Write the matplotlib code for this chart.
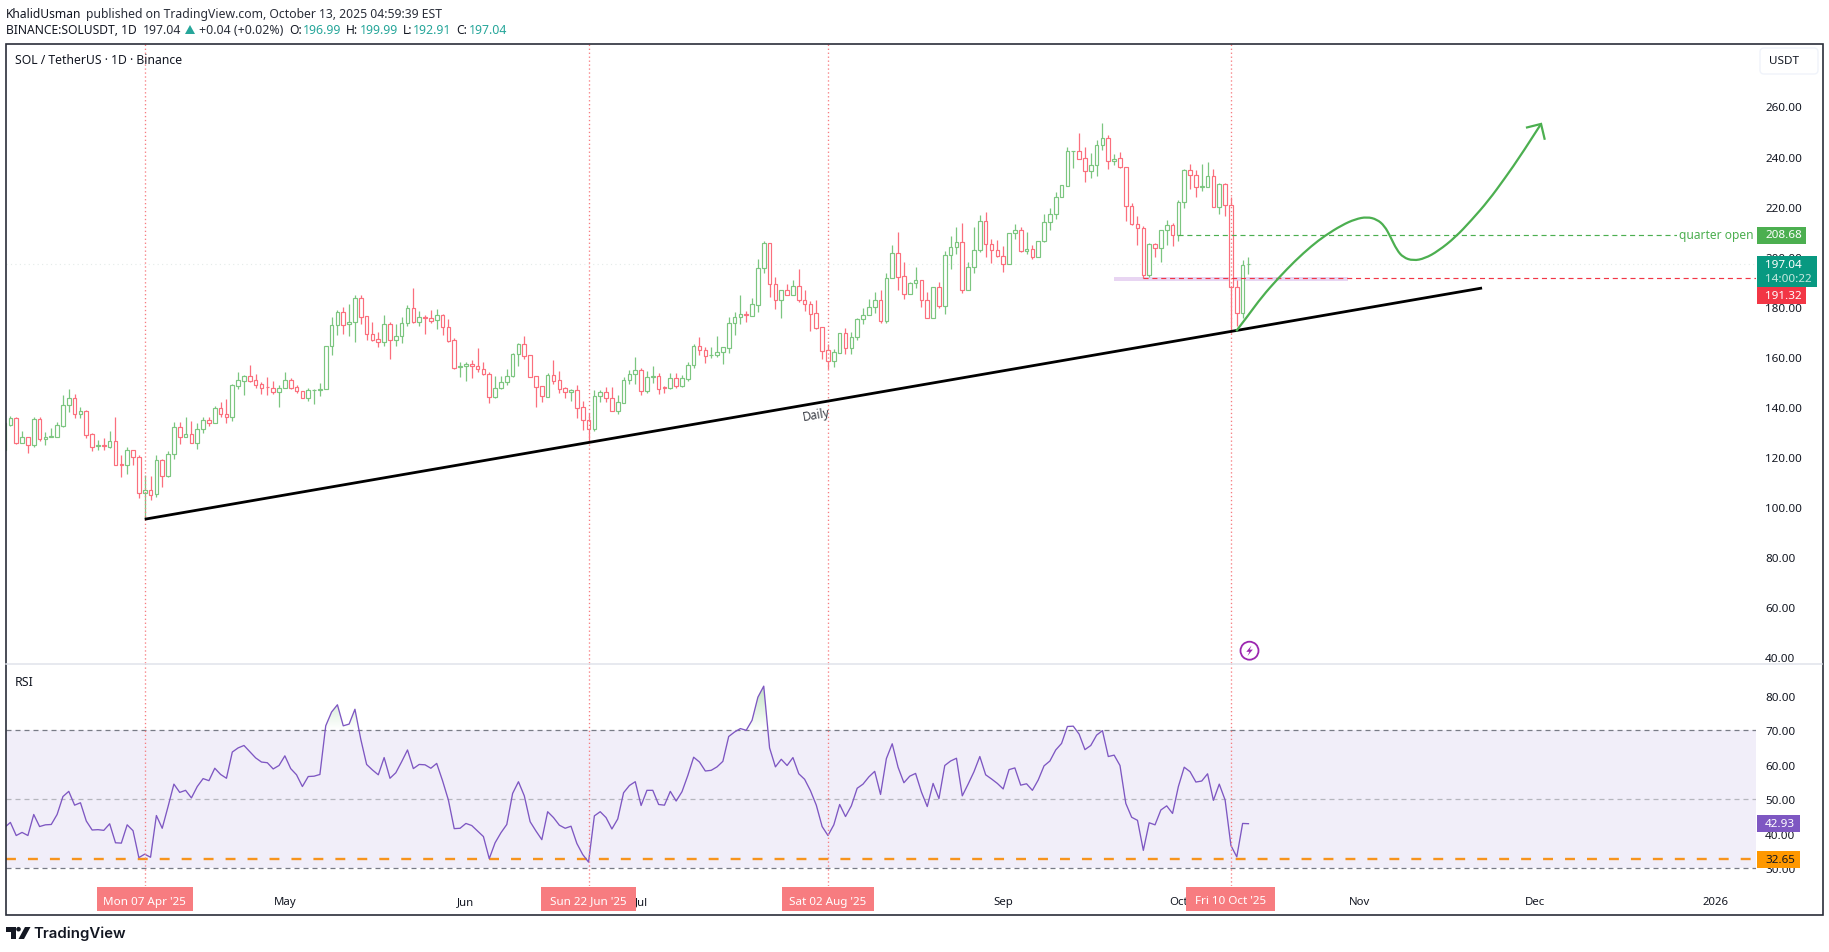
import numpy as np
import pandas as pd
import matplotlib
matplotlib.use("Agg")
import matplotlib.pyplot as plt
import matplotlib.dates as mdates
from matplotlib.patches import Rectangle, FancyBboxPatch, Circle, Polygon, PathPatch
from matplotlib.path import Path
from matplotlib.transforms import ScaledTranslation

# ----------------------------
# Data
# ----------------------------
first_day = "2025-03-14"

opens = [
    122.8, 132.8, 135.5, 125.8, 127.9, 125.0, 135.1, 127.4, 128.2, 128.2,
    132.6, 140.7, 143.5, 137.1, 138.3, 129.1, 124.6, 124.8, 124.2, 126.3,
    117.2, 117.0, 122.7, 119.9, 105.5, 106.9, 105.1, 118.7, 112.6, 121.1,
    131.9, 128.2, 129.1, 125.8, 131.1, 134.7, 133.8, 139.5, 137.3, 136.1,
    148.5, 150.5, 152.3, 150.7, 149.1, 148.0, 147.5, 145.9, 147.5, 150.7,
    147.9, 146.3, 143.7, 146.6, 146.7, 147.1, 164.2, 172.6, 177.8, 173.0,
    173.8, 183.4, 176.2, 169.0, 167.0, 165.8, 173.0, 166.6, 168.2, 173.4,
    179.4, 173.8, 175.8, 175.4, 174.6, 176.6, 171.8, 166.6, 156.0, 156.3,
    157.3, 156.5, 155.0, 153.0, 143.9, 147.5, 149.9, 152.3, 161.0, 165.0,
    160.6, 152.2, 148.2, 144.1, 152.6, 150.6, 147.4, 146.1, 146.7, 139.9,
    135.0, 131.4, 144.3, 145.9, 143.4, 138.5, 141.7, 150.6, 153.0, 154.6,
    146.5, 152.1, 152.2, 147.8, 147.4, 151.4, 148.5, 151.3, 156.6, 164.2,
    162.6, 160.6, 160.9, 161.8, 163.7, 173.4, 175.8, 177.1, 176.4, 180.8,
    195.3, 205.3, 189.0, 182.6, 186.6, 184.6, 188.2, 182.9, 181.3, 177.4,
    171.8, 162.6, 158.2, 161.7, 169.4, 163.7, 167.8, 175.0, 176.6, 179.8,
    182.6, 174.4, 191.3, 201.3, 192.2, 185.2, 189.4, 190.6, 182.6, 175.7,
    187.8, 180.2, 200.6, 203.7, 205.7, 186.8, 195.8, 202.5, 214.1, 204.9,
    202.5, 200.1, 196.9, 209.3, 210.5, 202.1, 202.9, 199.7, 206.1, 213.7,
    216.9, 223.7, 228.4, 242.0, 242.1, 239.3, 234.1, 236.5, 244.5, 247.2,
    238.1, 239.3, 235.7, 220.1, 212.9, 211.3, 192.6, 204.9, 203.3, 210.5,
    212.5, 208.7, 221.7, 234.5, 232.5, 227.8, 228.0, 232.1, 219.7, 228.9,
    220.5, 188.0, 177.4, 196.99,
]
highs = [
    134.0, 136.4, 136.1, 130.4, 127.9, 136.0, 136.0, 129.9, 131.5, 133.9,
    144.8, 147.2, 145.2, 140.0, 138.8, 129.5, 126.8, 127.5, 130.4, 136.0,
    120.8, 123.9, 122.7, 120.8, 112.9, 112.5, 120.7, 119.1, 122.4, 134.0,
    134.0, 136.0, 134.4, 133.8, 136.0, 136.1, 140.4, 142.1, 143.1, 149.2,
    154.0, 152.6, 156.8, 153.2, 150.1, 151.9, 150.4, 148.8, 154.0, 151.5,
    148.7, 146.5, 147.6, 147.1, 149.5, 164.2, 175.9, 178.7, 179.8, 181.1,
    184.7, 184.7, 176.2, 174.1, 169.8, 176.6, 173.8, 173.1, 176.1, 180.7,
    187.5, 178.3, 176.6, 178.7, 179.0, 177.0, 175.0, 167.4, 157.8, 157.8,
    158.8, 163.6, 157.8, 154.1, 152.4, 152.4, 155.2, 161.4, 165.4, 168.5,
    160.9, 152.2, 148.2, 153.4, 158.8, 154.4, 148.1, 147.1, 148.8, 142.4,
    137.5, 146.8, 146.8, 148.0, 147.8, 144.8, 152.1, 154.8, 159.8, 155.4,
    154.4, 156.3, 153.7, 148.4, 153.7, 153.7, 152.8, 157.9, 165.3, 167.9,
    163.9, 163.9, 168.3, 164.1, 175.9, 177.9, 184.7, 178.3, 183.6, 199.1,
    206.2, 205.3, 191.9, 186.6, 189.3, 190.5, 195.1, 186.6, 182.4, 182.6,
    171.8, 165.1, 163.1, 169.4, 171.4, 169.9, 175.4, 179.4, 183.1, 185.8,
    186.7, 193.3, 204.5, 210.0, 197.7, 189.9, 195.8, 190.6, 185.9, 187.8,
    189.9, 202.3, 208.3, 211.9, 213.4, 197.7, 211.9, 216.5, 217.8, 206.9,
    206.5, 204.3, 209.3, 213.0, 211.9, 209.7, 204.5, 206.1, 216.9, 219.3,
    225.7, 228.5, 243.8, 242.2, 249.4, 243.8, 241.3, 246.5, 253.4, 248.6,
    241.0, 241.8, 235.7, 221.3, 216.2, 212.1, 205.3, 205.3, 210.5, 214.6,
    213.3, 222.6, 234.9, 237.0, 234.6, 236.9, 237.8, 234.9, 229.3, 229.3,
    224.0, 190.7, 198.7, 199.99,
]
lows = [
    122.8, 132.4, 125.2, 125.8, 121.8, 124.2, 126.6, 124.8, 128.2, 128.2,
    132.2, 138.1, 135.7, 135.7, 127.8, 122.4, 122.8, 122.8, 123.8, 117.0,
    112.2, 113.3, 116.9, 103.7, 95.2, 102.9, 104.2, 108.2, 112.2, 119.4,
    125.2, 128.2, 125.8, 123.2, 129.5, 132.4, 133.8, 135.9, 133.8, 134.6,
    147.3, 144.8, 150.1, 147.7, 145.2, 144.8, 145.1, 140.1, 147.5, 147.2,
    145.7, 143.5, 142.5, 141.2, 144.4, 147.1, 160.9, 168.7, 169.1, 168.5,
    166.1, 173.1, 166.9, 166.5, 164.0, 164.4, 159.3, 164.4, 165.7, 172.3,
    173.4, 172.3, 169.3, 173.7, 171.3, 168.7, 166.1, 155.3, 152.1, 150.5,
    151.7, 154.1, 152.8, 141.7, 143.6, 147.1, 148.8, 152.1, 156.5, 159.3,
    152.1, 140.0, 142.1, 144.1, 149.2, 145.7, 143.5, 142.5, 135.5, 130.8,
    126.0, 130.6, 142.1, 142.1, 138.5, 137.4, 141.4, 149.3, 149.3, 144.8,
    145.7, 149.7, 145.2, 145.7, 147.0, 147.7, 147.8, 150.4, 155.7, 160.7,
    157.7, 159.7, 160.1, 157.1, 161.5, 168.7, 173.1, 174.0, 176.4, 178.0,
    193.6, 183.8, 179.0, 175.6, 184.6, 184.6, 182.0, 178.4, 170.5, 171.2,
    159.1, 155.3, 156.1, 161.4, 161.3, 161.3, 166.7, 173.2, 176.6, 177.4,
    173.4, 173.6, 191.3, 186.7, 183.2, 185.2, 187.4, 180.0, 175.7, 175.7,
    179.4, 177.2, 195.2, 201.2, 185.4, 186.6, 193.6, 201.7, 200.0, 197.5,
    200.0, 194.0, 196.9, 206.9, 202.0, 200.9, 199.2, 199.7, 205.7, 210.7,
    215.0, 223.7, 228.1, 235.5, 239.1, 230.0, 231.3, 232.3, 242.6, 235.1,
    236.7, 235.3, 214.4, 212.6, 204.7, 191.3, 192.0, 200.0, 197.9, 204.5,
    204.4, 206.4, 219.6, 227.2, 224.0, 226.4, 227.7, 219.7, 217.2, 216.4,
    169.4, 172.3, 175.4, 192.91,
]
closes = [
    133.5, 135.5, 125.8, 127.9, 125.0, 135.1, 127.4, 128.2, 128.4, 132.7,
    140.7, 143.5, 137.1, 138.3, 129.0, 124.2, 124.8, 124.6, 126.3, 117.0,
    117.0, 122.7, 119.9, 105.5, 106.9, 104.9, 118.7, 112.6, 121.1, 131.9,
    128.2, 129.1, 125.8, 131.1, 134.7, 133.8, 139.5, 137.3, 136.1, 148.7,
    150.7, 152.3, 150.5, 148.9, 147.7, 147.8, 145.9, 147.5, 150.7, 147.7,
    146.3, 143.7, 146.7, 146.9, 147.1, 164.2, 172.6, 177.8, 172.7, 173.8,
    183.4, 176.1, 169.0, 166.9, 165.8, 173.0, 166.6, 168.2, 173.4, 179.4,
    173.8, 175.8, 175.6, 174.5, 176.6, 171.8, 166.5, 155.7, 156.3, 157.3,
    156.5, 155.0, 153.0, 143.9, 147.5, 149.9, 152.3, 161.0, 165.0, 160.5,
    152.1, 148.1, 144.3, 152.6, 150.5, 147.3, 146.1, 146.7, 139.7, 135.0,
    131.4, 144.3, 145.9, 143.5, 138.5, 141.8, 150.6, 153.0, 154.6, 146.5,
    151.8, 152.3, 147.3, 147.6, 151.4, 148.5, 151.4, 156.6, 164.2, 162.6,
    160.2, 160.9, 161.8, 163.8, 173.4, 175.8, 177.0, 176.9, 181.0, 195.3,
    205.3, 189.0, 182.6, 186.6, 184.6, 188.2, 182.8, 181.2, 177.2, 171.6,
    162.5, 158.2, 161.8, 169.4, 163.7, 167.8, 175.0, 176.6, 179.8, 182.6,
    174.4, 191.3, 201.3, 192.0, 185.2, 189.5, 190.6, 182.6, 175.7, 187.8,
    180.2, 200.6, 203.7, 205.7, 186.8, 195.8, 202.5, 214.1, 204.9, 202.5,
    200.1, 196.9, 209.3, 210.5, 202.1, 202.9, 199.7, 206.1, 213.7, 216.9,
    223.7, 228.5, 242.1, 242.1, 239.1, 234.1, 236.5, 244.5, 247.2, 238.1,
    239.1, 235.7, 220.1, 212.9, 211.3, 192.6, 204.9, 203.3, 210.5, 212.5,
    208.5, 221.7, 234.5, 232.5, 227.7, 228.2, 232.1, 219.7, 228.9, 220.5,
    188.0, 177.4, 196.6, 197.04,
]
rsi_values = [
    41.8, 43.3, 39.5, 40.4, 39.5, 45.6, 42.1, 42.6, 42.7, 45.6,
    50.8, 52.3, 48.3, 49.0, 43.7, 41.1, 41.2, 41.0, 42.9, 37.4,
    37.3, 42.6, 40.9, 33.1, 34.1, 33.2, 45.3, 41.6, 47.9, 54.4,
    52.0, 52.6, 50.4, 53.7, 56.0, 55.4, 59.0, 57.2, 56.1, 63.7,
    64.9, 65.6, 63.8, 62.0, 60.8, 60.6, 58.8, 59.8, 62.6, 58.9,
    57.1, 53.7, 56.6, 56.7, 57.2, 71.3, 75.3, 77.4, 71.3, 71.8,
    76.1, 67.4, 60.1, 58.5, 57.1, 62.1, 56.1, 57.7, 60.9, 64.3,
    58.9, 60.1, 60.0, 59.0, 60.4, 55.4, 49.8, 41.5, 41.6, 43.0,
    42.4, 40.8, 39.2, 32.8, 37.4, 40.3, 42.7, 51.7, 55.1, 51.0,
    43.5, 40.8, 38.3, 46.4, 44.7, 42.5, 41.6, 42.2, 37.2, 34.0,
    31.8, 45.2, 46.4, 44.7, 41.4, 44.3, 51.9, 54.0, 55.1, 48.2,
    52.6, 52.6, 48.5, 48.3, 52.3, 49.5, 52.2, 56.9, 62.2, 60.8,
    58.2, 58.4, 59.4, 61.0, 68.2, 69.5, 70.5, 70.0, 72.9, 79.6,
    82.8, 64.9, 59.4, 61.6, 59.8, 62.1, 57.4, 55.8, 52.5, 48.3,
    42.1, 39.5, 42.6, 48.5, 45.0, 48.1, 53.2, 54.4, 56.5, 58.1,
    51.4, 61.8, 66.1, 59.3, 54.8, 56.7, 57.5, 52.1, 47.9, 54.6,
    50.2, 59.8, 61.1, 61.9, 51.0, 54.4, 58.0, 62.4, 57.1, 55.9,
    54.6, 53.0, 58.6, 59.1, 54.1, 54.5, 52.6, 55.6, 59.7, 61.1,
    64.3, 66.2, 71.1, 71.2, 68.9, 64.4, 65.6, 68.6, 69.9, 62.4,
    62.8, 59.8, 48.8, 44.8, 43.9, 35.2, 43.2, 42.6, 46.9, 48.1,
    45.9, 53.7, 59.3, 58.0, 55.0, 55.3, 57.4, 49.7, 54.4, 49.8,
    36.6, 33.3, 43.0, 42.93,
]

price_ticks = [40, 60, 80, 100, 120, 140, 160, 180, 200, 220, 240, 260]
rsi_ticks = [30, 40, 50, 60, 70, 80]
month_ticks = ["2025-05-01", "2025-06-01", "2025-07-01", "2025-08-01", "2025-09-01",
               "2025-10-01", "2025-11-01", "2025-12-01", "2026-01-01"]
month_labels = ["May", "Jun", "Jul", "", "Sep", "Oct", "Nov", "Dec", "2026"]
marked_days = ["2025-04-07", "2025-06-22", "2025-08-02", "2025-10-10"]
marked_labels = ["Mon 07 Apr '25", "Sun 22 Jun '25", "Sat 02 Aug '25", "Fri 10 Oct '25"]

# trendline and projected path drawn on the chart
trend_days = ["2025-04-07", "2025-11-22"]
trend_prices = [95.2, 187.5]
# path days are counted in bars from 7 Apr
path_days = [186.9, 189.0, 191.3, 194.1, 197.0, 199.8, 202.1, 205.0, 207.3, 209.3, 211.0, 212.3,
             213.3, 214.4, 215.5, 217.2, 219.2, 221.5, 224.4, 227.2, 230.1, 232.9, 235.8, 239.1]
path_prices = [170.3, 176.7, 184.0, 191.4, 198.4, 204.3, 208.4, 212.6, 215.0, 215.9, 214.9, 212.3,
               208.0, 202.7, 199.7, 198.4, 199.3, 202.3, 207.7, 214.6, 222.4, 231.3, 241.0, 253.0]
head_days = [236.7, 239.1, 239.7]
head_prices = [251.6, 253.0, 247.1]

zone_days = ["2025-09-20", "2025-10-30"]
zone_prices = [190.3, 191.9]
quarter_open = 208.68
quarter_open_day = "2025-10-01"
prev_low = 191.32
prev_low_day = "2025-09-25"
last_price = 197.04
rsi_last = 42.93
rsi_level = 32.65

# ----------------------------
# Page layout (pixels)
# ----------------------------
W, H = 1829, 952
LEFT, RIGHT = 6, 1756
TOP, SPLIT, BOTTOM = 44, 663, 886

GREEN = "#7cc680"
RED = "#fb6f7d"
DASH_GREEN = "#4caf50"
DASH_RED = "#f23645"
TEXT = "#131722"
TAG_PINK = "#f77c80"
PURPLE = "#7e57c2"
ORANGE = "#f7941d"

plt.rcParams["font.family"] = "Noto Sans"

fig = plt.figure(figsize=(W / 100, H / 100), dpi=100, facecolor="white")


def pane(top, bottom):
    return fig.add_axes([LEFT / W, 1 - bottom / H, (RIGHT - LEFT) / W, (bottom - top) / H])


def num(day):
    return mdates.date2num(pd.Timestamp(day))


ax = pane(TOP, SPLIT)
ax_rsi = pane(SPLIT, BOTTOM)
over = fig.add_axes([0, 0, 1, 1], zorder=10)
over.set_xlim(0, W)
over.set_ylim(H, 0)
over.axis("off")

days = num(first_day) + np.arange(len(closes))
anchor = num(marked_days[0])
xlim = (anchor + (LEFT - 144.7) / 5.84, anchor + (RIGHT - 144.7) / 5.84)


def to_px(day):
    return 144.7 + (day - anchor) * 5.84


# ----------------------------
# Price pane
# ----------------------------
o, h, l, c = map(np.array, (opens, highs, lows, closes))
colors = [GREEN if up else RED for up in c >= o]

ax.vlines(days, l, h, colors=colors, linewidth=0.9, zorder=3)
ax.bar(days, np.abs(c - o), bottom=np.minimum(o, c), width=0.62, facecolor="white",
       edgecolor=colors, linewidth=0.85, zorder=4)

ax.axhline(last_price, color="#e4ebe9", linewidth=0.8, linestyle=(0, (1, 3)), zorder=1)

# purple zone, level lines
ax.fill_between([num(zone_days[0]), num(zone_days[1])], zone_prices[0], zone_prices[1],
                color="#e8d5f2", linewidth=0, zorder=2)
ax.hlines(quarter_open, num(quarter_open_day), xlim[1], color=DASH_GREEN, linewidth=0.85,
          linestyle=(0, (4.3, 3.2)), zorder=5)
ax.hlines(prev_low, num(prev_low_day), xlim[1], color=DASH_RED, linewidth=0.85,
          linestyle=(0, (4.3, 3.2)), zorder=5)

trend_x = mdates.date2num(pd.to_datetime(trend_days))
ax.plot(trend_x, trend_prices, color="black", linewidth=2.0, solid_capstyle="butt", zorder=6)

# projected path: smooth quadratic pieces through the read points
path_xy = np.column_stack([anchor + np.array(path_days), path_prices])
mids = (path_xy[1:-2] + path_xy[2:-1]) / 2
verts = [path_xy[0]]
codes = [Path.MOVETO]
for ctrl, end in zip(path_xy[1:-2], mids):
    verts += [ctrl, end]
    codes += [Path.CURVE3, Path.CURVE3]
verts += [path_xy[-2], path_xy[-1]]
codes += [Path.CURVE3, Path.CURVE3]
ax.add_patch(PathPatch(Path(verts, codes), fill=False, edgecolor=DASH_GREEN, linewidth=1.6, zorder=7))
ax.plot(anchor + np.array(head_days), head_prices, color=DASH_GREEN, linewidth=1.6,
        solid_joinstyle="miter", zorder=7)

ax.text(anchor + 115, 136.6, "Daily", rotation=9.8, ha="center", va="center", fontsize=8.6,
        color="#3a3d45", zorder=8)

ax.set_ylim(260 - (SPLIT - 106.4) / 2.505, 260 + (106.4 - TOP) / 2.505)
ax.set_yticks(price_ticks)
ax.set_yticklabels([f"{t:.2f}" for t in price_ticks])

# ----------------------------
# RSI pane
# ----------------------------
rsi = np.array(rsi_values)
ax_rsi.axhspan(30, 70, color="#f1eef9", linewidth=0, zorder=1)
ax_rsi.axhline(70, color="#787b86", linewidth=0.9, linestyle=(0, (4, 3.2)), zorder=2)
ax_rsi.axhline(50, color="#b5b6bd", linewidth=0.9, linestyle=(0, (4, 3.2)), zorder=2)
ax_rsi.axhline(30, color="#787b86", linewidth=0.9, linestyle=(0, (4, 3.2)), zorder=2)
ax_rsi.axhline(rsi_level, color=ORANGE, linewidth=1.7, linestyle=(0, (4.2, 5.1)), zorder=3)

hot = ax_rsi.fill_between(days, rsi, 70, where=rsi > 70, interpolate=True, color="none")
gradient = np.zeros((64, 2, 4))
gradient[..., :3] = matplotlib.colors.to_rgb("#4caf50")
gradient[..., 3] = np.linspace(0.38, 0.0, 64)[:, None]
shade = ax_rsi.imshow(gradient, extent=[xlim[0], xlim[1], 70, 84], aspect="auto", zorder=3)
shade.set_clip_path(Path.make_compound_path(*hot.get_paths()), transform=ax_rsi.transData)

ax_rsi.plot(days, rsi, color=PURPLE, linewidth=0.95, zorder=4)

ax_rsi.set_ylim(70 - (BOTTOM - 730.3) / 3.45, 70 + (730.3 - SPLIT) / 3.45)
ax_rsi.set_yticks(rsi_ticks)
ax_rsi.set_yticklabels([f"{t:.2f}" for t in rsi_ticks])
ax_rsi.set_xticks(mdates.date2num(pd.to_datetime(month_ticks)))
ax_rsi.set_xticklabels(month_labels)
for tick_label, name in zip(ax_rsi.get_xticklabels(), month_labels):
    if name == "2026":
        tick_label.set_fontweight("bold")

for a in (ax, ax_rsi):
    a.set_xlim(xlim)
    a.yaxis.tick_right()
    a.tick_params(axis="y", length=0, pad=6.5, labelsize=8.4, labelcolor=TEXT)
    a.patch.set_alpha(0)
    for s in a.spines.values():
        s.set_visible(False)
    for day in marked_days:
        a.axvline(num(day), color=TAG_PINK, linewidth=0.95, linestyle=(0, (1, 2)), zorder=5.5)
    # price labels sit one pixel lower on the page
    nudge = ScaledTranslation(0, -1 / 100, fig.dpi_scale_trans)
    for tick_text in a.get_yticklabels():
        tick_text.set_transform(tick_text.get_transform() + nudge)
ax.set_xticks([])
ax_rsi.tick_params(axis="x", length=0, pad=8, labelsize=8.2, labelcolor=TEXT)

# ----------------------------
# Chart chrome in page pixels
# ----------------------------
over.add_patch(Rectangle((6, 44), 1817, 871, fill=False, edgecolor="#2a2e39", linewidth=1.2))
over.plot([6, 1822], [663.5, 663.5], color="#e0e3eb", linewidth=1.1)


def label(x, y, s, **kw):
    kw.setdefault("color", TEXT)
    kw.setdefault("fontsize", 8.9)
    kw.setdefault("va", "center")
    return over.text(x, y, s, **kw)


def tag(x_from, x_to, y_from, y_to, colour):
    over.add_patch(Rectangle((x_from, y_from), x_to - x_from, y_to - y_from, facecolor=colour,
                             edgecolor="none", zorder=3))


# header lines
label(6, 14.5, "KhalidUsman", fontweight="bold", fontsize=8.7)
label(86, 14.5, "published on TradingView.com, October 13, 2025 04:59:39 EST", color="#2a2e39",
      fontsize=8.8)
label(6, 31, "BINANCE:SOLUSDT, 1D", fontweight="bold", fontsize=8.7)
label(143, 31, "197.04", color="#2a2e39")
over.add_patch(Polygon([[185, 34], [195, 34], [190, 25]], facecolor="#26a69a", edgecolor="none"))
label(199, 31, "+0.04 (+0.02%)", color="#2a2e39")
teal = "#26a69a"
for lx, name, vx, val in [(289, "O:", 303, "196.99"), (346, "H:", 360, "199.99"),
                          (403, "L:", 413, "192.91"), (456, "C:", 469, "197.04")]:
    label(lx, 31, name, fontweight="bold", fontsize=8.7)
    label(vx, 31, val, color=teal)

label(15, 61, "SOL / TetherUS · 1D · Binance", fontweight="bold", fontsize=8.8)
label(15, 682, "RSI", fontsize=8.9)

# USDT button
over.add_patch(FancyBboxPatch((1762, 50), 54, 22, boxstyle="round,pad=2,rounding_size=4",
                              facecolor="white", edgecolor="#f0f3fa", linewidth=1.0))
label(1769, 62, "USDT", fontsize=8.4)

# right side tags
label(1679, 236, "quarter open", color=DASH_GREEN, fontsize=8.6,
      bbox=dict(facecolor="white", edgecolor="none", pad=1.5))
tag(1757, 1806, 227, 243.5, DASH_GREEN)
label(1765, 236, f"{quarter_open:.2f}", color="white", fontsize=8.4, fontweight="bold", zorder=4)
tag(1757, 1817, 256, 287, "#089981")
label(1765, 265.5, f"{last_price:.2f}", color="white", fontsize=8.4, fontweight="bold", zorder=4)
label(1765, 280, "14:00:22", color="#c5e8df", fontsize=8.4, fontweight="bold", zorder=4)
tag(1757, 1806, 287, 304, DASH_RED)
label(1765, 296.5, f"{prev_low:.2f}", color="white", fontsize=8.4, fontweight="bold", zorder=4)
tag(1757, 1800, 815, 832, PURPLE)
label(1765, 824.5, f"{rsi_last:.2f}", color="white", fontsize=8.4, fontweight="bold", zorder=4)
tag(1757, 1800, 851, 868, "#ff9800")
label(1765, 860.5, f"{rsi_level:.2f}", fontsize=8.4, zorder=4)

# date tags on the time scale
tag_half_widths = [48, 47.5, 45.7, 44.5]
for day, text, half in zip(marked_days, marked_labels, tag_half_widths):
    cx = to_px(num(day))
    tag(cx - half, cx + half, 887, 910.5, TAG_PINK)
    label(cx, 902, text, color="white", ha="center", fontsize=8.4, fontweight="bold", zorder=4)

# news marker
over.add_patch(Circle((1249.5, 650.7), 9, fill=False, edgecolor="#9c27b0", linewidth=1.3))
over.add_patch(Polygon([[1251.5, 645.5], [1246.3, 651.8], [1249.4, 651.8], [1247.5, 656],
                        [1252.8, 649.6], [1249.7, 649.6]], facecolor="#9c27b0", edgecolor="none"))

# TradingView logo
over.add_patch(Polygon([[6, 927], [15.5, 927], [15.5, 939], [10.5, 939], [10.5, 931.5], [6, 931.5]],
                       facecolor=TEXT, edgecolor="none"))
over.add_patch(Circle((18.5, 929.2), 2.3, facecolor=TEXT, edgecolor="none"))
over.add_patch(Polygon([[25, 927], [30.5, 927], [24, 939], [18.5, 939]], facecolor=TEXT, edgecolor="none"))
label(33.5, 934, "TradingView", fontsize=10.8, fontweight="semibold", family="Inter")

fig.savefig("out.png", dpi=100, facecolor="white")
